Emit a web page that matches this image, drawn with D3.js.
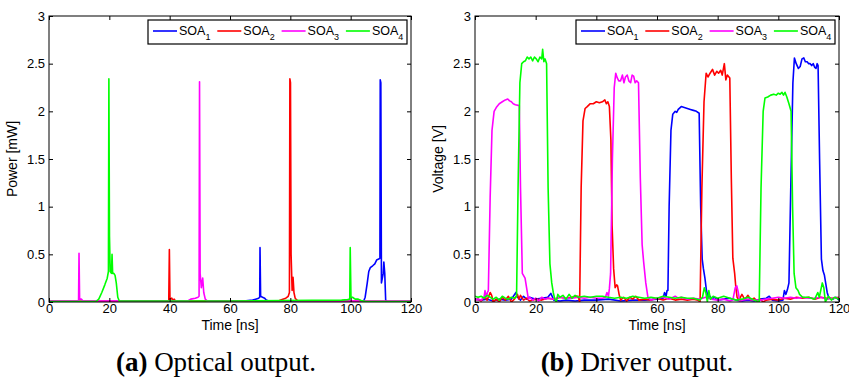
<!DOCTYPE html>
<html>
<head>
<meta charset="utf-8">
<script src="https://cdn.jsdelivr.net/npm/d3@7/dist/d3.min.js"></script>
<style>
  body { margin: 0; background: #fff; }
  svg { display: block; }
  .tick text { font-family: "Liberation Sans", Arial, sans-serif; }
</style>
</head>
<body>
<svg id="chart" width="849" height="385"></svg>
<script>
// ---- data ----
const timeTicks = [0, 20, 40, 60, 80, 100, 120];
const yTicks = [0, 0.5, 1, 1.5, 2, 2.5, 3];
const seriesNames = ["SOA", "SOA", "SOA", "SOA"];
const seriesSubs = ["1", "2", "3", "4"];
const seriesColors = ["#0000ff", "#ff0000", "#ff00ff", "#00ff00"];

// (a) optical output [ns, mW]
const optSOA1 = [[0,0.005],[20,0.006],[40,0.005],[60,0.007],[64,0.008],[66,0.015],[67.5,0.02],[68.5,0.03],[69.5,0.04],[69.85,0.05],[69.95,0.57],[70.15,0.06],[70.8,0.05],[71.5,0.04],[72,0.02],[73,0.008],[90,0.005],[104.3,0.008],[104.8,0.05],[105.5,0.2],[106,0.32],[106.5,0.36],[107.3,0.38],[108,0.4],[108.6,0.44],[109.3,0.45],[109.7,0.46],[109.8,2.33],[110.0,2.3],[110.2,0.2],[110.5,0.25],[110.8,0.3],[111.0,0.42],[111.3,0.3],[111.6,0.02],[112,0.005],[120,0.005]];
const optSOA2 = [[0,0.008],[39.7,0.01],[39.9,0.55],[40.1,0.03],[40.7,0.04],[41,0.02],[41.5,0.03],[42,0.008],[76,0.01],[77.5,0.03],[78.5,0.04],[79.3,0.06],[79.7,0.1],[79.85,2.34],[80.05,2.3],[80.25,0.5],[80.6,0.12],[80.9,0.26],[81.2,0.1],[81.6,0.04],[82.5,0.01],[120,0.008]];
const optSOA3 = [[0,0.01],[9.8,0.01],[9.95,0.51],[10.15,0.03],[10.7,0.03],[11.3,0.01],[46,0.01],[47,0.03],[48.5,0.04],[49.4,0.05],[49.75,0.06],[49.9,2.31],[50.1,0.3],[50.5,0.15],[50.95,0.25],[51.3,0.1],[51.8,0.03],[52.5,0.01],[120,0.01]];
const optSOA4 = [[0,0.005],[15.5,0.005],[16.5,0.03],[17.5,0.1],[18.5,0.18],[19.3,0.25],[19.7,0.32],[19.85,2.34],[20.05,0.69],[20.3,0.32],[20.7,0.3],[20.9,0.5],[21.1,0.3],[21.5,0.3],[21.9,0.28],[22.3,0.2],[22.8,0.05],[23.3,0.01],[60,0.01],[97,0.02],[99,0.025],[99.7,0.03],[99.85,0.57],[100.1,0.05],[100.6,0.05],[101.5,0.03],[102.5,0.03],[103.5,0.015],[105,0.005],[120,0.005]];

// (b) driver output [ns, V]
const voltSOA1 = [[0,0.03],[2,0.02],[4,0.03],[6,0.01],[8,0.03],[10,0.02],[12,0.03],[13.5,0.1],[14,0.05],[15,0.02],[16,0.06],[17,0.03],[18,0.05],[20,0.03],[22,0.04],[24,0.05],[25,0.09],[26,0.02],[28,0.01],[30,0.02],[33,0.01],[36,0.02],[40,0.02],[44,0.03],[48,0.01],[52,0.02],[56,0.02],[60,0.03],[62,0.04],[62.5,0.1],[63,0.06],[63.3,0.12],[63.6,0.12],[64,1.0],[64.6,1.8],[65.2,1.97],[66,2.0],[66.5,1.99],[67,2.02],[68,2.05],[69,2.04],[70,2.03],[71,2.02],[72,2.01],[73,2.0],[73.9,1.98],[74.4,1.0],[74.9,0.45],[75.3,0.35],[75.8,0.25],[76.3,0.12],[76.9,0.05],[77.5,0.06],[78,0.03],[79,0.05],[80,0.02],[82,0.03],[84,0.04],[86,0.02],[88,0.01],[90,0.02],[92,0.01],[94,0.03],[96,0.04],[97,0.06],[98,0.02],[100,0.01],[101.5,0.02],[102,0.12],[102.5,0.08],[103,0.13],[103.5,0.2],[104.1,1.2],[104.8,2.3],[105.3,2.56],[105.9,2.5],[106.6,2.45],[107.2,2.47],[107.8,2.55],[108.4,2.56],[108.9,2.52],[109.5,2.52],[110,2.5],[110.5,2.5],[111,2.48],[111.5,2.5],[112,2.46],[112.4,2.45],[112.8,2.5],[113.1,2.48],[113.6,1.5],[114.2,0.45],[114.7,0.33],[115.2,0.28],[115.6,0.2],[116.1,0.1],[116.6,0.05],[117,0.04],[118,0.03],[119,0.05],[120,0.02]];
const voltSOA2 = [[0,0.02],[1,0.03],[2,0.01],[3,0.05],[4,0.02],[5,0.1],[5.5,0.07],[6,0.0],[7,0.03],[8,0.0],[9,0.05],[10,0.02],[11,0.06],[12,0.0],[13,0.03],[14,0.08],[14.5,0.03],[15,0.07],[16,0.02],[17,0.04],[18,0.01],[20,0.03],[22,0.02],[24,0.04],[26,0.03],[28,0.05],[30,0.04],[32,0.05],[33,0.06],[34,0.06],[34.5,0.0],[35,1.2],[35.6,1.9],[36.3,2.03],[37,2.05],[38,2.08],[39,2.08],[40,2.1],[41,2.09],[42,2.1],[42.8,2.12],[43.3,2.08],[43.8,2.1],[44.3,2.05],[44.8,1.7],[45.2,0.8],[45.7,0.35],[46.2,0.15],[46.7,0.18],[47,0.17],[47.5,0.08],[48,0.02],[49,0.05],[50,0.01],[51,0.05],[52,0.03],[53,0.06],[54,0.02],[56,0.03],[58,0.02],[60,0.04],[62,0.02],[64,0.04],[66,0.02],[68,0.03],[70,0.02],[72,0.03],[73.5,0.02],[74.2,0.0],[74.8,1.2],[75.5,2.1],[76.2,2.4],[76.8,2.36],[77.5,2.4],[78.3,2.44],[79,2.38],[79.7,2.42],[80.3,2.4],[81,2.43],[81.5,2.38],[82.2,2.5],[82.7,2.33],[83.2,2.38],[84.0,2.35],[84.5,1.3],[85.0,0.46],[85.6,0.3],[86.0,0.15],[86.4,0.05],[87,0.02],[88,0.08],[88.5,0.05],[89,0.03],[90,0.07],[91,0.02],[92,0.04],[93,0.01],[94,0.03],[95,0.0],[96,0.02],[98,0.03],[100,0.02],[102,0.04],[104,0.03],[106,0.05],[108,0.04],[110,0.05],[112,0.03],[114,0.05],[116,0.04],[118,0.04],[120,0.05]];
const voltSOA3 = [[0,0.02],[1,0.03],[2,0.02],[3,0.05],[3.3,0.12],[3.7,0.05],[4.1,0.1],[4.4,0.12],[5,1.1],[5.6,1.8],[6.3,2.0],[7,2.04],[8,2.08],[9,2.1],[10,2.12],[10.8,2.13],[11.4,2.11],[12,2.1],[12.6,2.08],[13.3,2.07],[14.6,2.06],[15.0,1.2],[15.6,0.3],[16.5,0.25],[17,0.15],[17.6,0.03],[18,0.05],[19,0.02],[20,0.04],[21,0.01],[22,0.05],[23,0.03],[24,0.04],[26,0.03],[28,0.05],[30,0.04],[32,0.04],[34,0.05],[36,0.04],[38,0.05],[40,0.04],[42,0.04],[43,0.05],[43.5,0.1],[44,0.06],[44.3,0.14],[44.7,0.3],[45.3,1.5],[45.9,2.25],[46.4,2.4],[46.9,2.35],[47.4,2.32],[48,2.32],[48.6,2.38],[49.1,2.3],[49.6,2.36],[50.2,2.38],[50.7,2.32],[51.3,2.3],[51.8,2.38],[52.3,2.37],[52.8,2.3],[53.3,2.32],[53.9,2.3],[54.5,1.3],[55.1,0.6],[55.6,0.42],[56.3,0.2],[57,0.05],[58,0.02],[60,0.04],[62,0.05],[64,0.03],[66,0.06],[67,0.04],[68,0.05],[70,0.03],[72,0.04],[74,0.03],[76,0.05],[78,0.03],[80,0.02],[82,0.03],[84,0.01],[85,0.02],[85.8,0.15],[86.3,0.17],[86.8,0.1],[87.3,0.0],[88,0.02],[90,0.03],[92,0.02],[94,0.02],[96,0.03],[98,0.04],[100,0.05],[102,0.04],[104,0.05],[106,0.04],[108,0.05],[110,0.04],[112,0.04],[114,0.05],[116,0.03],[118,0.04],[120,0.04]];
const voltSOA4 = [[0,0.06],[1,0.05],[2,0.06],[3,0.04],[4,0.07],[5,0.05],[6,0.03],[7,0.05],[8,0.02],[9,0.06],[10,0.04],[11,0.03],[12,0.05],[13,0.04],[13.7,0.06],[14.2,1.2],[14.8,2.3],[15.4,2.5],[16,2.52],[16.6,2.53],[17.2,2.57],[17.8,2.55],[18.4,2.57],[19,2.53],[19.6,2.57],[20.2,2.55],[20.8,2.52],[21.4,2.57],[22.0,2.55],[22.3,2.65],[22.7,2.52],[23.1,2.55],[23.6,2.5],[24.1,1.2],[24.7,0.4],[25.3,0.2],[25.8,0.1],[26.3,0.03],[26.8,0.0],[27.3,0.08],[28,0.05],[29,0.07],[30,0.03],[31,0.08],[32,0.04],[33,0.07],[34,0.05],[36,0.06],[38,0.05],[40,0.06],[42,0.06],[44,0.05],[46,0.04],[48,0.05],[50,0.04],[52,0.06],[54,0.05],[56,0.04],[58,0.05],[60,0.04],[62,0.06],[64,0.05],[66,0.04],[68,0.05],[70,0.04],[72,0.04],[74,0.02],[75,0.05],[75.6,0.15],[76.1,0.1],[76.6,0.0],[77.1,0.12],[77.6,0.03],[78.5,0.06],[80,0.04],[82,0.06],[84,0.04],[86,0.02],[88,0.03],[90,0.05],[92,0.02],[93.7,0.0],[94.3,1.2],[95,2.0],[95.6,2.14],[96.5,2.15],[97.5,2.17],[98.5,2.18],[99.3,2.17],[100,2.19],[100.6,2.18],[101.2,2.2],[101.7,2.17],[102.2,2.2],[102.8,2.15],[103.5,2.08],[104.2,2.0],[104.7,1.0],[105.2,0.3],[105.8,0.15],[106.5,0.12],[107,0.08],[108,0.05],[110,0.05],[112,0.03],[113,0.1],[113.5,0.05],[114.5,0.2],[115,0.15],[115.5,0.0],[116.5,0.06],[117.5,0.02],[118.5,0.05],[120,0.03]];

const panels = [
  { x0: 49, x1: 411, yLabel: "Power [mW]", caption: "Optical output.", tag: "(a)",
    capX: 216, series: [optSOA1, optSOA2, optSOA3, optSOA4] },
  { x0: 475, x1: 839, yLabel: "Voltage [V]", caption: "Driver output.", tag: "(b)",
    capX: 637, series: [voltSOA1, voltSOA2, voltSOA3, voltSOA4] }
];

const yTop = 16, yBottom = 302;
const svg = d3.select("#chart");
const sans = "'Liberation Sans', Arial, Helvetica, sans-serif";

panels.forEach(p => {
  const x = d3.scaleLinear().domain([0, 120]).range([p.x0, p.x1]);
  const y = d3.scaleLinear().domain([0, 3]).range([yBottom, yTop]);
  const g = svg.append("g");

  // clip so lines stay inside box
  const clipId = "clip" + p.x0;
  svg.append("clipPath").attr("id", clipId).append("rect")
    .attr("x", p.x0).attr("y", yTop).attr("width", p.x1 - p.x0).attr("height", yBottom - yTop);

  // lines (MATLAB draw order: 1,2,3,4)
  const line = d3.line().x(d => x(d[0])).y(d => y(d[1]));
  g.append("g").attr("clip-path", `url(#${clipId})`)
    .selectAll("path").data(p.series).join("path")
    .attr("d", line)
    .attr("fill", "none")
    .attr("stroke", (d, i) => seriesColors[i])
    .attr("stroke-width", 1.6)
    .attr("stroke-linejoin", "round");

  // axes, ticks pointing inward
  const bottom = g.append("g").attr("transform", `translate(0,${yBottom})`)
    .call(d3.axisBottom(x).tickValues(timeTicks).tickSize(-4).tickPadding(2));
  const top = g.append("g").attr("transform", `translate(0,${yTop})`)
    .call(d3.axisTop(x).tickValues(timeTicks).tickSize(-4).tickFormat(""));
  const left = g.append("g").attr("transform", `translate(${p.x0},0)`)
    .call(d3.axisLeft(y).tickValues(yTicks).tickSize(-4).tickPadding(4).tickFormat(d3.format("")));
  const right = g.append("g").attr("transform", `translate(${p.x1},0)`)
    .call(d3.axisRight(y).tickValues(yTicks).tickSize(-4).tickFormat(""));
  [bottom, top, left, right].forEach(a => {
    a.select(".domain").remove();
    a.selectAll("line").attr("stroke", "#000");
    a.selectAll("text").attr("font-size", 13).attr("fill", "#000").attr("font-family", sans);
  });

  // box
  g.append("rect")
    .attr("x", p.x0).attr("y", yTop)
    .attr("width", p.x1 - p.x0).attr("height", yBottom - yTop)
    .attr("fill", "none").attr("stroke", "#000").attr("stroke-width", 1);

  // axis labels
  g.append("text")
    .attr("x", (p.x0 + p.x1) / 2).attr("y", 330)
    .attr("text-anchor", "middle").attr("font-family", sans).attr("font-size", 14)
    .text("Time [ns]");
  g.append("text")
    .attr("transform", `translate(${p.x0 - 32},${(yTop + yBottom) / 2}) rotate(-90)`)
    .attr("text-anchor", "middle").attr("font-family", sans).attr("font-size", 14)
    .text(p.yLabel);

  // legend
  const lx = p.x1 - 263, ly = 20, lw = 259, lh = 24;
  const leg = g.append("g");
  leg.append("rect").attr("x", lx).attr("y", ly).attr("width", lw).attr("height", lh)
    .attr("fill", "#fff").attr("stroke", "#000").attr("stroke-width", 1.2);
  seriesNames.forEach((name, i) => {
    const ix = lx + 5 + i * 64.3;
    leg.append("line")
      .attr("x1", ix).attr("x2", ix + 24).attr("y1", ly + 11).attr("y2", ly + 11)
      .attr("stroke", seriesColors[i]).attr("stroke-width", 1.6);
    const t = leg.append("text")
      .attr("x", ix + 26).attr("y", ly + 15)
      .attr("font-family", sans).attr("font-size", 12.5);
    t.append("tspan").text(name);
    t.append("tspan").attr("font-size", 9).attr("dy", 5).text(seriesSubs[i]);
  });

  // caption
  const cap = svg.append("text")
    .attr("x", p.capX).attr("y", 371)
    .attr("text-anchor", "middle")
    .attr("font-family", "'Liberation Serif', 'Times New Roman', serif")
    .attr("font-size", 27);
  cap.append("tspan").attr("font-weight", "bold").text(p.tag);
  cap.append("tspan").text(" " + p.caption);
});
</script>
</body>
</html>
